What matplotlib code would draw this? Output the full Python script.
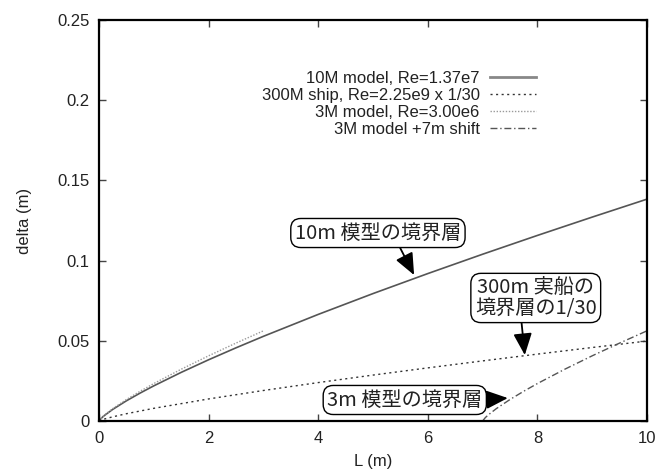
import matplotlib
matplotlib.use("Agg")
import matplotlib.pyplot as plt

# 読み取った値 (L [m], delta [m])
L_10m = [0, 0.05, 0.1, 0.25, 0.5, 0.75, 1, 1.5, 2, 2.5, 3, 4, 5, 6, 7, 8, 9, 10]
d_10m = [0, 0.0020, 0.00347, 0.00723, 0.01259, 0.01741, 0.02192, 0.03032, 0.03817,
         0.04562, 0.05279, 0.06645, 0.07944, 0.09191, 0.10397, 0.11569, 0.12712, 0.13831]

L_ship = [0, 0.05, 0.1, 0.25, 0.5, 1, 2, 3, 4, 5, 6, 7, 8, 9, 10]
d_ship = [0, 0.00072, 0.00125, 0.0026, 0.00454, 0.0079, 0.01375, 0.01902, 0.02395,
          0.02863, 0.03312, 0.03747, 0.0417, 0.04582, 0.04985]

L_3m = [0, 0.05, 0.1, 0.25, 0.5, 0.75, 1, 1.5, 2, 2.5, 3]
d_3m = [0, 0.00212, 0.0037, 0.0077, 0.0134, 0.01854, 0.02334, 0.03228, 0.04064, 0.04858, 0.05621]

L_shift = [7, 7.05, 7.1, 7.25, 7.5, 7.75, 8, 8.5, 9, 9.5, 10]
d_shift = d_3m

labels = ["10M model, Re=1.37e7", "300M ship, Re=2.25e9 x 1/30",
          "3M model, Re=3.00e6", "3M model +7m shift"]
x_ticks = [0, 2, 4, 6, 8, 10]
y_ticks = [0, 0.05, 0.1, 0.15, 0.2, 0.25]
y_tick_labels = ["0", "0.05", "0.1", "0.15", "0.2", "0.25"]

plt.rcParams['font.family'] = ['Liberation Sans', 'DejaVu Sans']
JP = ['Noto Sans CJK JP', 'DejaVu Sans']

fig = plt.figure(figsize=(6.58, 4.72), dpi=100)
ax = fig.add_axes([99 / 658, 1 - 421 / 472, 548 / 658, 401 / 472])

ax.plot(L_10m, d_10m, '-', color='#555555', lw=1.2, label=labels[0])
ax.plot(L_ship, d_ship, color='#333333', lw=1.0, linestyle=(0, (1.5, 2.5)), label=labels[1])
ax.plot(L_3m, d_3m, color='#9a9a9a', lw=1.0, linestyle=(0, (1, 1.2)), label=labels[2])
ax.plot(L_shift, d_shift, color='#555555', lw=1.0, linestyle=(0, (5, 2, 1, 2)), label=labels[3])

ax.set_xlim(0, 10)
ax.set_ylim(0, 0.25)
ax.set_xticks(x_ticks)
ax.set_xticklabels([str(t) for t in x_ticks])
ax.set_yticks(y_ticks)
ax.set_yticklabels(y_tick_labels)
ax.tick_params(direction='in', length=5, width=1, top=True, right=True,
               labelsize=12, pad=7, color='#444444', labelcolor='#222222')
for s in ax.spines.values():
    s.set_linewidth(1.6)

ax.set_xlabel('L (m)', fontsize=12, labelpad=6, color='#222222')
ax.set_ylabel('delta (m)', fontsize=12, labelpad=18, color='#222222')

leg = ax.legend(loc='upper right', bbox_to_anchor=(0.81, 0.89), frameon=False,
                markerfirst=False, fontsize=12, handlelength=2.8,
                handletextpad=0.6, labelspacing=0.12, borderaxespad=0)
for t in leg.get_texts():
    t.set_color('#222222')
leg.get_lines()[0].set_linewidth(2.0)
leg.get_lines()[0].set_color('#888888')

box = dict(boxstyle='round,pad=0.2,rounding_size=0.5', fc='white', ec='black', lw=1.0)


def arrow(rel):
    return dict(arrowstyle='-|>,head_length=0.7,head_width=0.3', color='black',
                lw=1.3, mutation_scale=19, relpos=rel, shrinkA=0, shrinkB=0)


ax.annotate('10m 模型の境界層', xy=(5.75, 0.091), xytext=(5.09, 0.1172),
            ha='center', va='center', fontsize=14.5, family=JP, bbox=box,
            color='#222222', arrowprops=arrow((0.62, 0)))
ax.annotate('300m 実船の\n境界層の1/30', xy=(7.77, 0.0411), xytext=(7.97, 0.0767),
            ha='center', va='center', fontsize=14.5, family=JP, bbox=box,
            color='#222222', linespacing=0.95, arrowprops=arrow((0.38, 0)))
ax.annotate('3m 模型の境界層', xy=(7.46, 0.0143), xytext=(5.58, 0.0131),
            ha='center', va='center', fontsize=14.5, family=JP, bbox=box,
            color='#222222', arrowprops=arrow((1, 0.5)))

fig.savefig('out.png', dpi=100)
